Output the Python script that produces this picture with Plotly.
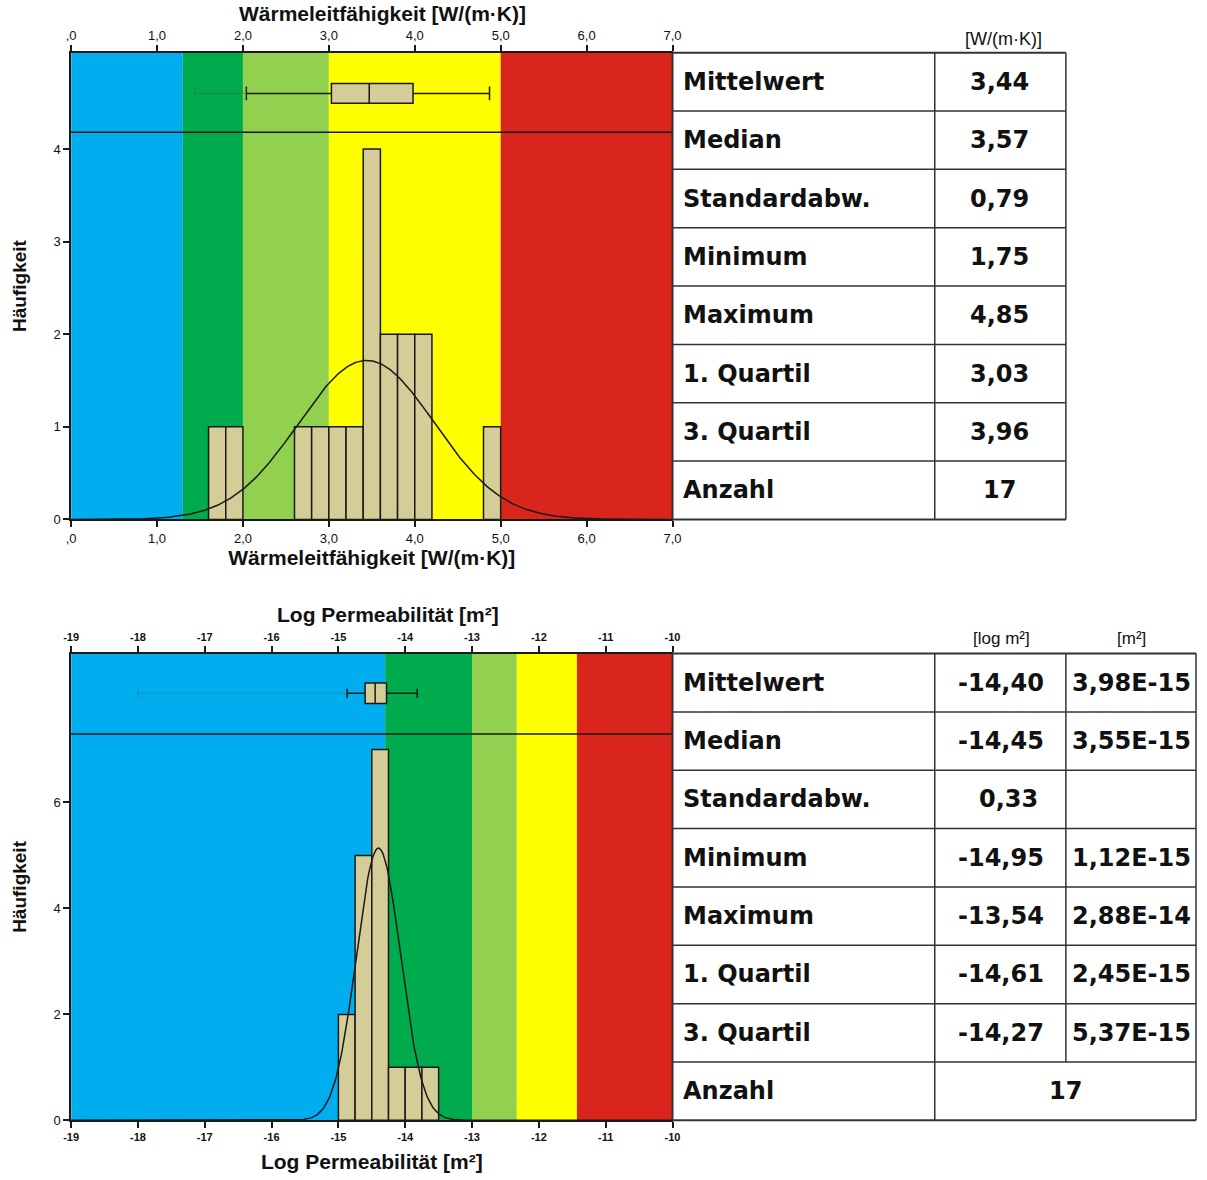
import numpy as np
import plotly.graph_objects as go

# ---------------- data ----------------
# Chart 1: Wärmeleitfähigkeit
wl_bin_left = [1.6, 1.8, 2.6, 2.8, 3.0, 3.2, 3.4, 3.6, 3.8, 4.0, 4.8]
wl_counts = [1, 1, 1, 1, 1, 1, 4, 2, 2, 2, 1]
wl_bin_width = 0.2
wl_mean, wl_sd, wl_n = 3.44, 0.79, 17
wl_box = dict(q1=3.03, median=3.47, q3=3.98, lowerfence=2.04, upperfence=4.87)
wl_faint = [1.44, 2.04]
wl_band_edges = [0.0, 1.3, 2.0, 3.0, 5.0, 7.0]
wl_ticks = [0, 1, 2, 3, 4, 5, 6, 7]
wl_ticktext = [",0", "1,0", "2,0", "3,0", "4,0", "5,0", "6,0", "7,0"]
wl_yticks = [0, 1, 2, 3, 4]

# Chart 2: Log Permeabilität
kp_bin_left = [-15.0, -14.75, -14.5, -14.25, -14.0, -13.75]
kp_counts = [2, 5, 7, 1, 1, 1]
kp_bin_width = 0.25
kp_mean, kp_sd, kp_n = -14.40, 0.33, 17
kp_box = dict(q1=-14.60, median=-14.45, q3=-14.28, lowerfence=-14.87, upperfence=-13.82)
kp_faint = [-18.0, -14.87]
kp_band_edges = [-19.0, -14.3, -13.0, -12.33, -11.43, -10.0]
kp_ticks = [-19, -18, -17, -16, -15, -14, -13, -12, -11, -10]
kp_yticks = [0, 2, 4, 6]

band_colors = ["#00AEEF", "#00AB4E", "#92D050", "#FFFF00", "#DA251D"]

# Tables
table_labels = ["Mittelwert", "Median", "Standardabw.", "Minimum", "Maximum",
                "1. Quartil", "3. Quartil", "Anzahl"]
wl_values = ["3,44", "3,57", "0,79", "1,75", "4,85", "3,03", "3,96", "17"]
kp_log_values = ["-14,40", "-14,45", "0,33", "-14,95", "-13,54", "-14,61", "-14,27", "17"]
kp_lin_values = ["3,98E-15", "3,55E-15", "", "1,12E-15", "2,88E-14", "2,45E-15", "5,37E-15", ""]

wl_title = "Wärmeleitfähigkeit [W/(m·K)]"
kp_title = "Log Permeabilität [m²]"

# ---------------- layout helpers ----------------
W, H = 1207, 1180
def px(x):
    return x / W
def py(y):
    return 1 - y / H

BAR_COLOR = "#D4CD98"
LINE = "#1a1a1a"
TAB = "#333333"

fig = go.Figure()

def normal_curve(mean, sd, n, bw, x0, x1):
    xs = np.linspace(x0, x1, 500)
    ys = n * bw / (sd * np.sqrt(2 * np.pi)) * np.exp(-0.5 * ((xs - mean) / sd) ** 2)
    return xs, ys

# ---- chart 1 traces ----
fig.add_trace(go.Bar(x=wl_bin_left, y=wl_counts, width=wl_bin_width, offset=0,
                     marker=dict(color=BAR_COLOR, line=dict(color=LINE, width=1.5)),
                     xaxis="x", yaxis="y", showlegend=False, hoverinfo="skip"))
xs, ys = normal_curve(wl_mean, wl_sd, wl_n, wl_bin_width, 0, 7)
fig.add_trace(go.Scatter(x=xs, y=ys, mode="lines", line=dict(color=LINE, width=1.5),
                         xaxis="x", yaxis="y", showlegend=False, hoverinfo="skip"))
fig.add_trace(go.Scatter(x=wl_faint, y=[4.6, 4.6], mode="lines+markers",
                         line=dict(color="rgba(60,90,60,0.45)", width=1),
                         marker=dict(symbol="line-ns", size=8, line=dict(color="rgba(60,90,60,0.45)", width=1)),
                         xaxis="x", yaxis="y", showlegend=False, hoverinfo="skip"))
fig.add_trace(go.Box(orientation="h", y=[4.6], q1=[wl_box["q1"]], median=[wl_box["median"]],
                     q3=[wl_box["q3"]], lowerfence=[wl_box["lowerfence"]],
                     upperfence=[wl_box["upperfence"]], width=0.215, whiskerwidth=0.7,
                     fillcolor=BAR_COLOR, line=dict(color=LINE, width=1.5), boxpoints=False,
                     xaxis="x", yaxis="y", showlegend=False, hoverinfo="skip"))

# ---- chart 2 traces ----
fig.add_trace(go.Bar(x=kp_bin_left, y=kp_counts, width=kp_bin_width, offset=0,
                     marker=dict(color=BAR_COLOR, line=dict(color=LINE, width=1.5)),
                     xaxis="x3", yaxis="y2", showlegend=False, hoverinfo="skip"))
xs2, ys2 = normal_curve(kp_mean, kp_sd, kp_n, kp_bin_width, -19, -10)
fig.add_trace(go.Scatter(x=xs2, y=ys2, mode="lines", line=dict(color=LINE, width=1.5),
                         xaxis="x3", yaxis="y2", showlegend=False, hoverinfo="skip"))
fig.add_trace(go.Scatter(x=kp_faint, y=[8.06, 8.06], mode="lines+markers",
                         line=dict(color="rgba(60,90,60,0.35)", width=1),
                         marker=dict(symbol="line-ns", size=8, line=dict(color="rgba(60,90,60,0.35)", width=1)),
                         xaxis="x3", yaxis="y2", showlegend=False, hoverinfo="skip"))
fig.add_trace(go.Box(orientation="h", y=[8.06], q1=[kp_box["q1"]], median=[kp_box["median"]],
                     q3=[kp_box["q3"]], lowerfence=[kp_box["lowerfence"]],
                     upperfence=[kp_box["upperfence"]], width=0.39, whiskerwidth=0.45,
                     fillcolor=BAR_COLOR, line=dict(color=LINE, width=1.5), boxpoints=False,
                     xaxis="x3", yaxis="y2", showlegend=False, hoverinfo="skip"))

# ---------------- shapes ----------------
shapes = []
for edges, xr, yr in [(wl_band_edges, "x", "y domain"), (kp_band_edges, "x3", "y2 domain")]:
    for i in range(len(edges) - 1):
        shapes.append(dict(type="rect", xref=xr, yref=yr, x0=edges[i], x1=edges[i + 1],
                           y0=0, y1=1, fillcolor=band_colors[i], line=dict(width=0), layer="below"))
# separators between box strip and histogram
shapes.append(dict(type="line", xref="x domain", yref="y", x0=0, x1=1, y0=4.18, y1=4.18,
                   line=dict(color=LINE, width=1.5)))
shapes.append(dict(type="line", xref="x3 domain", yref="y2", x0=0, x1=1, y0=7.29, y1=7.29,
                   line=dict(color=LINE, width=1.5)))

def hline(x0, x1, y, w=1.5):
    shapes.append(dict(type="line", xref="paper", yref="paper", x0=px(x0), x1=px(x1),
                       y0=py(y), y1=py(y), line=dict(color=TAB, width=w)))
def vline(x, y0, y1, w=1.5):
    shapes.append(dict(type="line", xref="paper", yref="paper", x0=px(x), x1=px(x),
                       y0=py(y0), y1=py(y1), line=dict(color=TAB, width=w)))

annotations = []
LABEL_FONT = dict(family="DejaVu Sans", size=24, color="#111111")
TITLE_FONT = dict(family="Liberation Sans", size=21, color="#111111")

# top-axis titles
annotations.append(dict(text="<b>%s</b>" % wl_title, x=px(380), y=py(14), xref="paper", yref="paper",
                        xanchor="center", yanchor="middle", showarrow=False, font=TITLE_FONT))
annotations.append(dict(text="<b>%s</b>" % kp_title, x=px(385), y=py(619), xref="paper", yref="paper",
                        xanchor="center", yanchor="middle", showarrow=False, font=TITLE_FONT))

# table 1
t1_top, t1_bot = 53, 523
rh = (t1_bot - t1_top) / 8
for k in range(9):
    hline(674, 1073, t1_top + k * rh, 2 if k in (0, 8) else 1.5)
vline(674, t1_top, t1_bot, 2)
vline(940, t1_top, t1_bot)
vline(1073, t1_top, t1_bot)
for k, (lab, val) in enumerate(zip(table_labels, wl_values)):
    yc = t1_top + (k + 0.5) * rh
    annotations.append(dict(text="<b>%s</b>" % lab, x=px(683), y=py(yc), xref="paper", yref="paper",
                            xanchor="left", yanchor="middle", showarrow=False, font=LABEL_FONT))
    annotations.append(dict(text="<b>%s</b>" % val, x=px(1006), y=py(yc), xref="paper", yref="paper",
                            xanchor="center", yanchor="middle", showarrow=False, font=LABEL_FONT))
annotations.append(dict(text="[W/(m·K)]", x=px(1010), y=py(39), xref="paper", yref="paper",
                        xanchor="center", yanchor="middle", showarrow=False,
                        font=dict(family="Liberation Sans", size=18, color="#111111")))

# table 2
t2_top, t2_bot = 658, 1128
for k in range(9):
    hline(674, 1205, t2_top + k * rh, 2 if k in (0, 8) else 1.5)
vline(674, t2_top, t2_bot, 2)
vline(940, t2_top, t2_bot)
vline(1073, t2_top, t2_top + 7 * rh)
vline(1205, t2_top, t2_bot)
for k, (lab, lv, mv) in enumerate(zip(table_labels, kp_log_values, kp_lin_values)):
    yc = t2_top + (k + 0.5) * rh
    annotations.append(dict(text="<b>%s</b>" % lab, x=px(683), y=py(yc), xref="paper", yref="paper",
                            xanchor="left", yanchor="middle", showarrow=False, font=LABEL_FONT))
    if lab == "Anzahl":
        annotations.append(dict(text="<b>%s</b>" % lv, x=px(1073), y=py(yc), xref="paper", yref="paper",
                                xanchor="center", yanchor="middle", showarrow=False, font=LABEL_FONT))
        continue
    annotations.append(dict(text="<b>%s</b>" % lv, x=px(1007 if lab != "Standardabw." else 1015), y=py(yc),
                            xref="paper", yref="paper", xanchor="center", yanchor="middle",
                            showarrow=False, font=LABEL_FONT))
    if mv:
        annotations.append(dict(text="<b>%s</b>" % mv, x=px(1140), y=py(yc), xref="paper", yref="paper",
                                xanchor="center", yanchor="middle", showarrow=False, font=LABEL_FONT))
annotations.append(dict(text="[log m²]", x=px(1008), y=py(643), xref="paper", yref="paper",
                        xanchor="center", yanchor="middle", showarrow=False,
                        font=dict(family="Liberation Sans", size=17, color="#111111")))
annotations.append(dict(text="[m²]", x=px(1140), y=py(643), xref="paper", yref="paper",
                        xanchor="center", yanchor="middle", showarrow=False,
                        font=dict(family="Liberation Sans", size=17, color="#111111")))

# ---------------- axes ----------------
TICK1 = dict(family="Liberation Sans", size=13, color="#111111")
TICK2 = dict(family="Liberation Sans Narrow, Liberation Sans", size=11, color="#111111")
YTITLE_FONT = dict(family="Liberation Sans", size=19, color="#111111")

common_x = dict(showline=True, linecolor=LINE, linewidth=1.5, ticks="outside", ticklen=6,
                tickcolor=LINE, tickwidth=1.5, showgrid=False, zeroline=False, fixedrange=True)
common_y = dict(showline=True, linecolor=LINE, linewidth=1.5, ticks="outside", ticklen=6,
                tickcolor=LINE, tickwidth=1.5, showgrid=False, zeroline=False, fixedrange=True,
                tickfont=TICK1)

d1x = [px(64), px(674)]
d1y = [py(523), py(53)]
d2y = [py(1128), py(658)]

fig.update_layout(
    width=W, height=H, margin=dict(l=0, r=0, t=0, b=0),
    paper_bgcolor="white", plot_bgcolor="white", showlegend=False,
    xaxis=dict(domain=d1x, range=[0, 7], anchor="y", tickvals=wl_ticks, ticktext=wl_ticktext,
               tickfont=TICK1, title=dict(text="<b>%s</b>" % wl_title, font=TITLE_FONT, standoff=4),
               **common_x),
    xaxis2=dict(domain=d1x, range=[0, 7], anchor="y", overlaying="x", side="top", tickvals=wl_ticks,
                ticktext=wl_ticktext, tickfont=TICK1, **common_x),
    yaxis=dict(domain=d1y, range=[0, 5.04], anchor="x", tickvals=wl_yticks,
               title=dict(text="<b>Häufigkeit</b>", font=YTITLE_FONT, standoff=22),
               **common_y),
    xaxis3=dict(domain=d1x, range=[-19, -10], anchor="y2", tickvals=kp_ticks,
                ticktext=["<b>%d</b>" % t for t in kp_ticks], tickfont=TICK2,
                title=dict(text="<b>%s</b>" % kp_title, font=TITLE_FONT, standoff=12), **common_x),
    xaxis4=dict(domain=d1x, range=[-19, -10], anchor="y2", overlaying="x3", side="top", tickvals=kp_ticks,
                ticktext=["<b>%d</b>" % t for t in kp_ticks], tickfont=TICK2, **common_x),
    yaxis2=dict(domain=d2y, range=[0, 8.81], anchor="x3", tickvals=kp_yticks,
                title=dict(text="<b>Häufigkeit</b>", font=YTITLE_FONT, standoff=22),
                **common_y),
    shapes=shapes, annotations=annotations,
)
# invisible traces to activate top axes
fig.add_trace(go.Scatter(x=[0], y=[0], xaxis="x2", yaxis="y", mode="markers",
                         marker=dict(opacity=0), showlegend=False, hoverinfo="skip"))
fig.add_trace(go.Scatter(x=[-19], y=[0], xaxis="x4", yaxis="y2", mode="markers",
                         marker=dict(opacity=0), showlegend=False, hoverinfo="skip"))

fig.write_html("out.html", config={"displayModeBar": False},
               post_script="document.body.style.margin='0px';document.body.style.overflow='hidden';"
                           "document.documentElement.style.overflow='hidden';")
